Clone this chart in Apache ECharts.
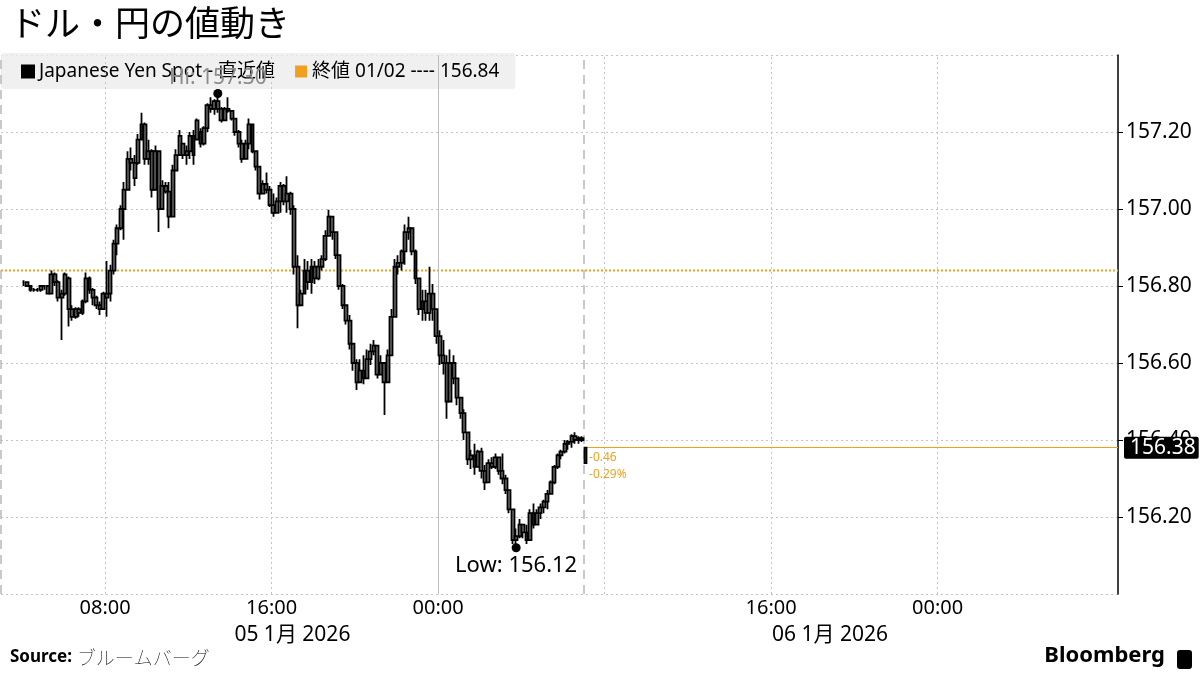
<!DOCTYPE html>
<html><head><meta charset="utf-8">
<script src="https://cdn.jsdelivr.net/npm/echarts@6/dist/echarts.min.js"></script>
<style>html,body{margin:0;padding:0;background:#fff}#c{width:1200px;height:675px}</style>
</head><body><div id="c"></div>
<script>
const chartTitle = 'ドル・円の値動き';
const seriesName = 'Japanese Yen Spot - 直近値';
const prevCloseName = '終値 01/02 ---- 156.84';
const prevClose = 156.84;
const firstBar = '2026-01-05 04:05';
const barStepMinutes = 10;

const opens = [156.81,156.81,156.80,156.79,156.79,156.79,156.80,156.80,156.78,156.83,
156.81,156.77,156.78,156.82,156.74,156.72,156.74,156.73,156.76,156.82,
156.79,156.77,156.75,156.74,156.77,156.78,156.84,156.91,156.95,157.00,
157.05,157.13,157.12,157.12,157.18,157.22,157.13,157.15,157.05,157.15,
157.00,157.06,157.045,156.98,157.10,157.14,157.17,157.14,157.15,157.19,
157.18,157.20,157.17,157.21,157.27,157.26,157.28,157.26,157.23,157.26,
157.255,157.235,157.20,157.17,157.13,157.17,157.22,157.15,157.11,157.04,
157.065,157.05,157.01,156.99,157.02,157.06,157.02,157.04,157.00,156.85,
156.75,156.78,156.84,156.81,156.85,156.82,156.85,156.87,156.93,156.98,
156.94,156.88,156.80,156.75,156.71,156.65,156.60,156.55,156.58,156.56,
156.61,156.63,156.645,156.57,156.60,156.55,156.62,156.72,156.85,156.86,
156.89,156.94,156.95,156.89,156.82,156.74,156.76,156.73,156.78,156.74,
156.67,156.62,156.60,156.50,156.60,156.56,156.51,156.47,156.42,156.35,
156.36,156.33,156.37,156.32,156.29,156.34,156.33,156.355,156.32,156.30,
156.27,156.22,156.14,156.15,156.18,156.16,156.14,156.21,156.18,156.21,
156.225,156.24,156.26,156.29,156.33,156.36,156.37,156.39,156.395,156.41,
156.40,156.405,156.34];
const closes = [156.81,156.80,156.79,156.79,156.79,156.80,156.80,156.78,156.83,156.81,
156.77,156.78,156.83,156.74,156.72,156.74,156.73,156.76,156.82,156.79,
156.77,156.75,156.74,156.78,156.78,156.84,156.91,156.95,157.00,157.05,
157.13,157.12,157.08,157.18,157.22,157.13,157.15,157.05,157.15,157.00,
157.06,157.045,156.98,157.10,157.14,157.19,157.14,157.15,157.19,157.14,
157.23,157.17,157.21,157.27,157.26,157.28,157.26,157.23,157.26,157.255,
157.235,157.20,157.17,157.13,157.17,157.22,157.15,157.11,157.04,157.065,
157.05,157.01,156.99,157.02,157.06,157.02,157.04,157.00,156.85,156.75,
156.78,156.84,156.81,156.85,156.82,156.85,156.87,156.93,156.98,156.94,
156.88,156.80,156.75,156.71,156.65,156.60,156.55,156.58,156.56,156.61,
156.63,156.645,156.57,156.60,156.55,156.62,156.72,156.85,156.86,156.89,
156.94,156.95,156.89,156.82,156.74,156.76,156.73,156.78,156.74,156.67,
156.62,156.60,156.50,156.60,156.56,156.51,156.47,156.42,156.35,156.36,
156.33,156.37,156.32,156.29,156.34,156.33,156.355,156.32,156.30,156.27,
156.22,156.14,156.15,156.18,156.16,156.14,156.21,156.18,156.21,156.225,
156.24,156.26,156.29,156.33,156.36,156.37,156.39,156.395,156.41,156.40,
156.405,156.40,156.38];
const lows = [156.80,156.80,156.785,156.785,156.785,156.785,156.79,156.78,156.78,156.80,
156.76,156.66,156.775,156.695,156.71,156.715,156.72,156.725,156.755,156.78,
156.75,156.74,156.725,156.74,156.72,156.76,156.83,156.88,156.945,156.92,
157.05,157.10,157.06,157.115,157.18,157.115,157.115,157.03,157.05,156.94,
157.00,157.04,156.95,156.98,157.10,157.14,157.13,157.115,157.13,157.115,
157.18,157.16,157.165,157.20,157.25,157.245,157.25,157.225,157.23,157.25,
157.23,157.19,157.16,157.12,157.13,157.155,157.145,157.10,157.025,157.04,
157.04,157.005,156.98,156.99,156.99,157.01,156.99,156.985,156.83,156.69,
156.75,156.78,156.79,156.78,156.805,156.815,156.84,156.865,156.93,156.92,
156.87,156.79,156.74,156.70,156.635,156.58,156.53,156.55,156.545,156.56,
156.595,156.62,156.56,156.57,156.465,156.55,156.62,156.72,156.83,156.84,
156.855,156.92,156.88,156.805,156.725,156.71,156.71,156.71,156.71,156.65,
156.595,156.57,156.455,156.50,156.545,156.49,156.455,156.40,156.335,156.325,
156.31,156.33,156.30,156.27,156.29,156.325,156.325,156.31,156.285,156.26,
156.21,156.13,156.12,156.145,156.145,156.13,156.14,156.17,156.18,156.195,
156.21,156.22,156.26,156.285,156.325,156.35,156.365,156.375,156.38,156.39,
156.39,156.395,156.34];
const highs = [156.815,156.81,156.80,156.795,156.795,156.80,156.80,156.80,156.84,156.835,
156.815,156.79,156.835,156.825,156.75,156.745,156.745,156.765,156.835,156.825,
156.795,156.775,156.76,156.785,156.865,156.855,156.92,156.96,157.01,157.07,
157.15,157.16,157.14,157.195,157.25,157.225,157.18,157.155,157.165,157.15,
157.075,157.07,157.07,157.115,157.155,157.205,157.17,157.165,157.20,157.205,
157.235,157.21,157.215,157.275,157.29,157.285,157.30,157.265,157.265,157.29,
157.257,157.235,157.205,157.18,157.18,157.235,157.22,157.15,157.11,157.075,
157.095,157.06,157.04,157.03,157.07,157.065,157.085,157.045,157.01,156.88,
156.79,156.87,156.865,156.87,156.865,156.87,156.88,156.945,156.998,156.98,
156.94,156.88,156.805,156.75,156.725,156.65,156.61,156.61,156.62,156.635,
156.65,156.66,156.645,156.62,156.60,156.635,156.74,156.87,156.88,156.895,
156.96,156.98,156.95,156.895,156.82,156.79,156.79,156.85,156.805,156.74,
156.685,156.66,156.62,156.635,156.62,156.56,156.51,156.48,156.42,156.375,
156.39,156.375,156.38,156.335,156.35,156.355,156.365,156.355,156.365,156.31,
156.27,156.22,156.17,156.195,156.18,156.18,156.22,156.235,156.22,156.235,
156.245,156.27,156.295,156.335,156.365,156.375,156.40,156.40,156.415,156.42,
156.41,156.41,156.38];

const yMin = 156.0, yMax = 157.4, yStep = 0.2;
const axisStart = '2026-01-05 03:00';
const axisEnd = '2026-01-07 08:40';
const timeLabelTimes = ['2026-01-05 08:00','2026-01-05 16:00','2026-01-06 00:00','2026-01-06 16:00','2026-01-07 00:00'];
const dottedGridTimes = ['2026-01-05 08:00','2026-01-05 16:00','2026-01-06 08:00','2026-01-06 16:00','2026-01-07 00:00'];
const solidGridTimes = ['2026-01-06 00:00'];
const sessionBreakTimes = ['2026-01-05 03:00','2026-01-06 07:00'];
const dateLabels = ['05 1月 2026','06 1月 2026'];
const dateLabelTimes = ['2026-01-05 17:00','2026-01-06 18:50'];

function t(s){const [d,h]=s.split(' ');const [Y,M,D]=d.split('-').map(Number);const [hh,mm]=h.split(':').map(Number);return Date.UTC(Y,M-1,D,hh,mm);}
const pad = n => String(n).padStart(2,'0');
const xMin = t(axisStart), xMax = t(axisEnd);
const t0 = t(firstBar);
const barTimes = opens.map((_, i) => t0 + i*barStepMinutes*60000);
const ohlc = opens.map((o,i)=>[barTimes[i], o, closes[i], lows[i], highs[i]]);

let hiI=0, loI=0;
highs.forEach((v,i)=>{ if(v>highs[hiI]) hiI=i; });
lows.forEach((v,i)=>{ if(v<lows[loI]) loI=i; });
const lastI = closes.length-1;
const last = closes[lastI];
const diff = last - prevClose;
const pct = diff/prevClose*100;

const FONT = '"Noto Sans", "Noto Sans CJK JP", sans-serif';
const JFONT = '"Noto Sans CJK JP", sans-serif';
const ORANGE = '#f0a01e';

const gridMarks = []
  .concat(dottedGridTimes.map(s=>({xAxis:t(s), lineStyle:{color:'#c4c4c4', type:[2,3], width:1}})))
  .concat(solidGridTimes.map(s=>({xAxis:t(s), lineStyle:{color:'#bdbdbd', type:'solid', width:1}})))
  .concat(sessionBreakTimes.map(s=>({xAxis:t(s), lineStyle:{color:'#b8b8b8', type:[9,6], width:1.5}})));

const timeLabelVals = timeLabelTimes.map(t);
const dateLabelVals = dateLabelTimes.map(t);

const chart = echarts.init(document.getElementById('c'));
chart.setOption({
  animation: false,
  backgroundColor: '#fff',
  textStyle: { fontFamily: FONT },
  title: [
    { text: chartTitle, left: 5, top: 0, textStyle: { fontSize: 35, fontWeight: 'normal', color: '#000', fontFamily: JFONT } },
    { text: '{b|Source:} {n|ブルームバーグ}', left: 5, bottom: 3,
      textStyle: { rich: { b: { fontSize: 17, fontWeight: 'bold', color: '#000', fontFamily: FONT }, n: { fontSize: 19, fontWeight: 'lighter', color: '#000', fontFamily: JFONT } } } },
    { text: 'Bloomberg', right: 30, bottom: 3, textStyle: { fontSize: 22, fontWeight: 'bold', color: '#000', fontFamily: FONT } }
  ],
  graphic: [
    { type: 'rect', right: 8, bottom: 6, shape: { width: 15, height: 19, r: 3 }, style: { fill: '#000' } }
  ],
  legend: {
    left: 1, top: 53,
    data: [
      { name: seriesName, icon: 'rect', itemStyle: { color: '#000' } },
      { name: prevCloseName, icon: 'rect', itemStyle: { color: ORANGE } }
    ],
    itemWidth: 12, itemHeight: 12, itemGap: 20,
    padding: [9, 16, 8, 20],
    backgroundColor: 'rgba(236,236,236,0.8)',
    borderRadius: 3,
    textStyle: { fontSize: 19, color: '#000', fontFamily: FONT },
    selectedMode: false,
    z: 1
  },
  grid: { left: 1, right: 82, top: 55, bottom: 81, containLabel: false },
  xAxis: [
    { type: 'value', min: xMin, max: xMax, scale: true,
      axisLine: { show: false }, axisTick: { show: false }, splitLine: { show: false },
      axisLabel: { customValues: timeLabelVals, formatter: v => { const d = new Date(v); return pad(d.getUTCHours())+':'+pad(d.getUTCMinutes()); },
        fontSize: 20, color: '#000', margin: 4, fontFamily: FONT } },
    { type: 'value', min: xMin, max: xMax, scale: true, position: 'bottom', offset: 27,
      axisLine: { show: false }, axisTick: { show: false }, splitLine: { show: false },
      axisLabel: { customValues: dateLabelVals, formatter: v => { const k = dateLabelVals.indexOf(v); return k >= 0 ? dateLabels[k] : ''; },
        fontSize: 21, color: '#000', margin: 4, fontFamily: FONT } }
  ],
  yAxis: {
    type: 'value', position: 'right', min: yMin, max: yMax, interval: yStep,
    axisLine: { show: true, lineStyle: { color: '#000', width: 1.5 } },
    axisTick: { show: true, length: 5, lineStyle: { color: '#000' } },
    axisLabel: { formatter: v => v.toFixed(2), showMinLabel: false, showMaxLabel: false, fontSize: 21, color: '#000', margin: 8, fontFamily: FONT },
    splitLine: { show: true, lineStyle: { color: '#c4c4c4', type: [2, 3] } }
  },
  series: [
    { type: 'line', name: '_grid', data: [[xMin, prevClose]], showSymbol: false, silent: true, z: 1,
      lineStyle: { opacity: 0 },
      markLine: { silent: true, symbol: 'none', label: { show: false }, data: gridMarks } },
    { type: 'line', name: prevCloseName, data: [[xMin, prevClose], [xMax, prevClose]], showSymbol: false, silent: true, z: 2,
      itemStyle: { color: ORANGE }, lineStyle: { color: ORANGE, type: [2, 2], width: 2 } },
    { type: 'candlestick', name: seriesName, data: ohlc, barWidth: 3.4, z: 5, xAxisIndex: 0,
      itemStyle: { color: '#808080', color0: '#808080', borderColor: '#000', borderColor0: '#000', borderWidth: 1.8 },
      markPoint: {
        symbol: 'circle', symbolSize: 9, itemStyle: { color: '#000' },
        data: [
          { coord: [barTimes[hiI], highs[hiI]], label: { show: true, position: 'top', distance: 0, formatter: 'Hi: ' + highs[hiI].toFixed(2), color: '#8c8c8c', fontSize: 21, fontFamily: FONT } },
          { coord: [barTimes[loI], lows[loI]], label: { show: true, position: 'bottom', distance: 2, formatter: 'Low: ' + lows[loI].toFixed(2), color: '#000', fontSize: 22, fontFamily: FONT } },
          { coord: [barTimes[lastI], last], symbolSize: 1, itemStyle: { color: 'rgba(0,0,0,0)' },
            label: { show: true, position: 'right', distance: 3, offset: [0, 18], align: 'left',
              formatter: diff.toFixed(2) + '\n' + pct.toFixed(2) + '%', color: ORANGE, fontSize: 12, lineHeight: 17, fontFamily: FONT } }
        ]
      },
      markLine: {
        silent: true, symbol: 'none',
        lineStyle: { color: ORANGE, type: 'solid', width: 1 },
        label: { show: true, position: 'end', distance: 6, formatter: last.toFixed(2), backgroundColor: '#000', color: '#fff', fontSize: 21, padding: [1, 3, 0, 6], borderRadius: 2, fontFamily: FONT },
        data: [[{ coord: [barTimes[lastI], last] }, { coord: [xMax, last] }]]
      }
    }
  ]
});
</script></body></html>
